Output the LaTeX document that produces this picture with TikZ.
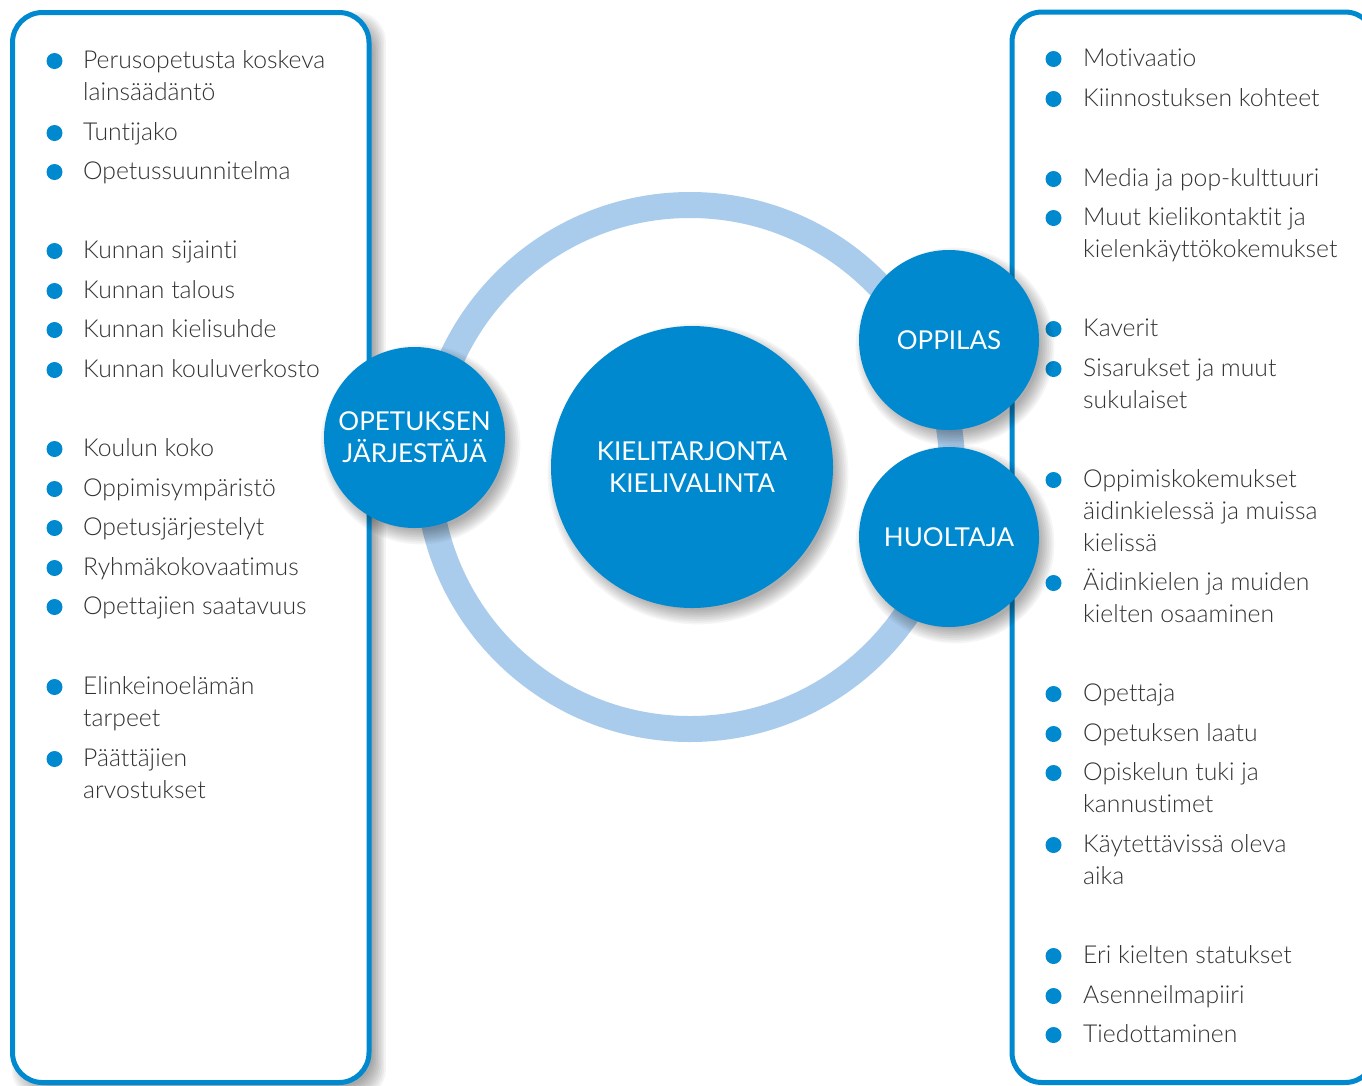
\documentclass[tikz,border=0pt]{standalone}
\usepackage{fontspec}
\IfFontExistsTF{Lato Light}{\newfontfamily\lightfont{Lato Light}[Ligatures=NoCommon]}{\newfontfamily\lightfont{Lato}[Ligatures=NoCommon]}
\newfontfamily\regfont{Lato}[Ligatures=NoCommon]
\usetikzlibrary{calc}
\definecolor{mainblue}{RGB}{0,137,207}
\definecolor{ringblue}{RGB}{170,204,236}
\definecolor{txtgray}{RGB}{50,50,50}
\tikzset{
  txt/.style={anchor=base west, inner sep=0pt, text=txtgray, font=\lightfont\fontsize{24.7}{30}\selectfont},
  bul/.style={fill=mainblue},
  panel/.style={draw=mainblue, line width=5pt, fill=white, rounded corners=30pt},
  hub/.style={circle, fill=mainblue, text=white, align=center, inner sep=0pt, font=\regfont\fontsize{26}{32}\selectfont},
  shade layer/.style={fill=black, opacity=0.04},
}
\newcommand\myshadow[3]{%
  \foreach \k [evaluate=\k as \rr using #3-5+1.8*\k] in {0,...,8}
    \fill[shade layer] (#1+6,#2+7) circle (\rr pt);
}
\begin{document}
\begin{tikzpicture}[x=1pt,y=-1pt]
\useasboundingbox (0,0) rectangle (1362,1085);
\fill[white] (0,0) rectangle (1362,1085);

% left panel shadow
\foreach \k [evaluate=\k as \e using -4+1.6*\k] in {0,...,8}
  \fill[black, opacity=0.045, rounded corners=30pt] (12.5+8-\e,12.5+8-\e) rectangle (369+8+\e,1082.5+8+\e);
% panels
\draw[panel] (12.5,12.5) rectangle (369,1082.5);
\draw[panel] (1012,12) rectangle (1375,1082.5);

% left texts
\foreach \yy/\lbl [count=\i] in {
  68/Perusopetusta koskeva, 100/lainsäädäntö, 140/Tuntijako, 179/Opetussuunnitelma,
  258/Kunnan sijainti, 298/Kunnan talous, 337/Kunnan kielisuhde, 377/Kunnan kouluverkosto,
  456/Koulun koko, 496/Oppimisympäristö, 535/Opetusjärjestelyt, 575/Ryhmäkokovaatimus, 614/Opettajien saatavuus,
  694/Elinkeinoelämän, 726/tarpeet, 766/Päättäjien, 798/arvostukset}
  \node[txt] (l\i) at (83,\yy) {\lbl};
\foreach \yy in {68,140,179,258,298,337,377,456,496,535,575,614,694,766}
  \fill[bul] (54.5,\yy-7) circle (8pt);

% right texts
\foreach \yy/\lbl [count=\i] in {
  66/Motivaatio, 106/Kiinnostuksen kohteet,
  186/Media ja pop-kulttuuri, 225/Muut kielikontaktit ja, 257/kielenkäyttökokemukset,
  336/Kaverit, 376/Sisarukset ja muut, 408/sukulaiset,
  487/Oppimiskokemukset, 519/äidinkielessä ja muissa, 551/kielissä, 590/Äidinkielen ja muiden, 622/kielten osaaminen,
  701/Opettaja, 741/Opetuksen laatu, 780/Opiskelun tuki ja, 812/kannustimet, 852/Käytettävissä oleva, 884/aika,
  963/Eri kielten statukset, 1003/Asenneilmapiiri, 1042/Tiedottaminen}
  \node[txt] (r\i) at (1083,\yy) {\lbl};
\foreach \yy in {66,106,186,225,336,376,487,590,701,741,780,852,963,1003,1042}
  \fill[bul] (1053.5,\yy-7) circle (8pt);

% ring
\draw[ringblue, line width=26pt] (690,467) circle (262pt);

% shadows of hubs
\myshadow{692}{467}{141}
\myshadow{414.5}{437.5}{90.5}
\myshadow{949}{340}{90}
\myshadow{949}{537}{90}

% hubs
\node[hub, minimum size=282pt] (center) at (692,467) {KIELITARJONTA\\KIELIVALINTA};
\node[hub, minimum size=181pt] (jarj) at (414.5,437.5) {OPETUKSEN\\JÄRJESTÄJÄ};
\node[hub, minimum size=180pt] (oppilas) at (949,340) {OPPILAS};
\node[hub, minimum size=180pt] (huoltaja) at (949,537) {HUOLTAJA};
\end{tikzpicture}
\end{document}
